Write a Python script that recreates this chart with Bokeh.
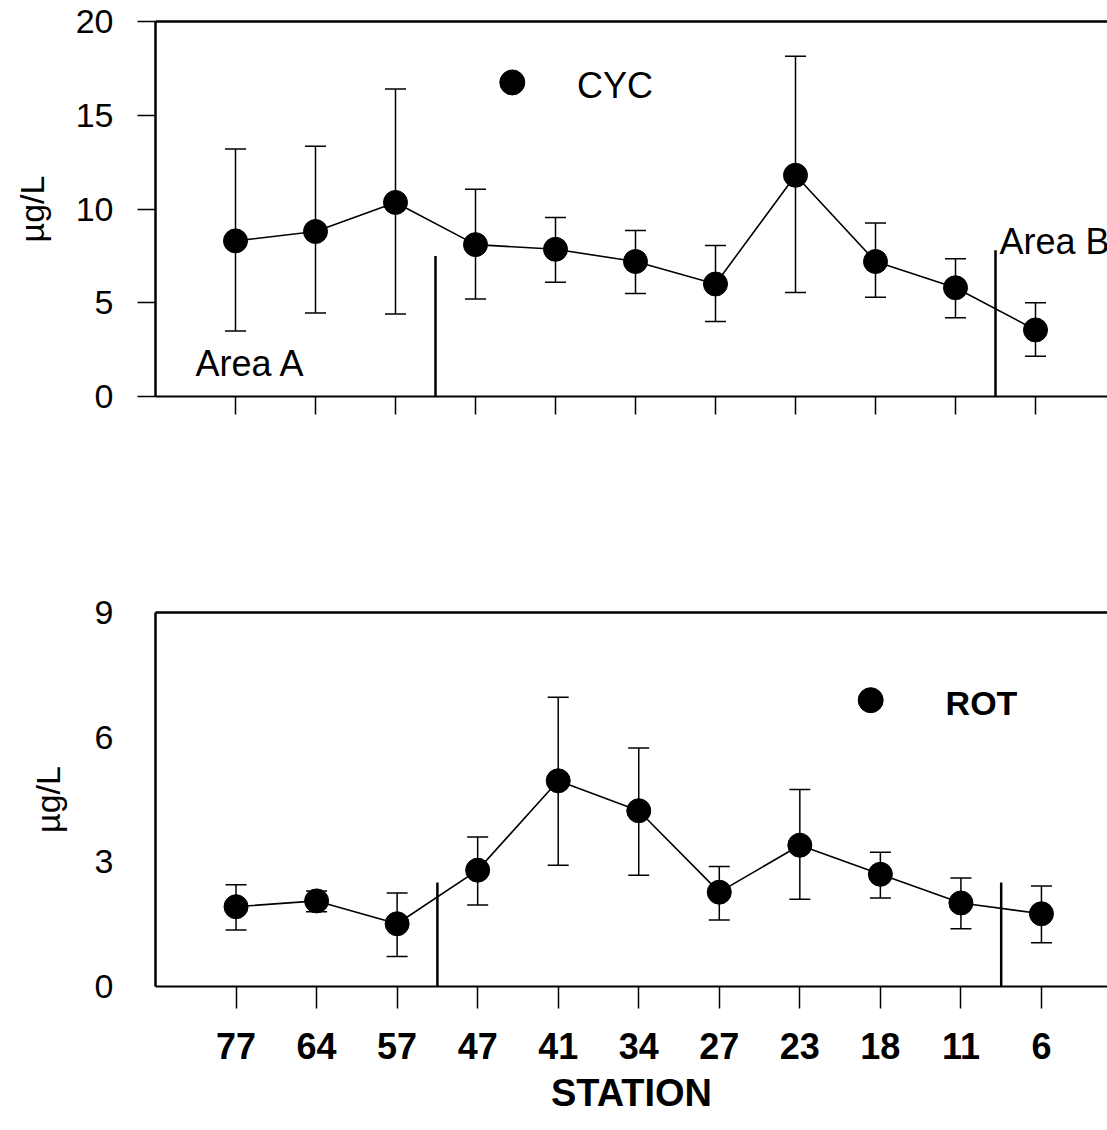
from bokeh.plotting import figure
from bokeh.models import Range1d, FixedTicker, LinearAxis, Whisker, TeeHead, ColumnDataSource
from bokeh.layouts import column
from bokeh.core.properties import value
from bokeh.embed import file_html
from bokeh.resources import INLINE

# ---- data ----
stations = ["77", "64", "57", "47", "41", "34", "27", "23", "18", "11", "6"]
cyc_mean = [8.3, 8.8, 10.35, 8.1, 7.85, 7.2, 6.0, 11.8, 7.2, 5.8, 3.55]
cyc_upper = [13.2, 13.35, 16.4, 11.05, 9.55, 8.85, 8.05, 18.15, 9.25, 7.35, 5.0]
cyc_lower = [3.5, 4.45, 4.4, 5.2, 6.1, 5.5, 4.0, 5.55, 5.3, 4.2, 2.15]
rot_mean = [1.92, 2.06, 1.51, 2.8, 4.95, 4.23, 2.27, 3.4, 2.7, 2.01, 1.75]
rot_upper = [2.45, 2.3, 2.25, 3.6, 6.96, 5.74, 2.89, 4.74, 3.23, 2.61, 2.42]
rot_lower = [1.36, 1.8, 0.72, 1.96, 2.92, 2.68, 1.6, 2.1, 2.13, 1.39, 1.05]
cyc_ticks = [0, 5, 10, 15, 20]
rot_ticks = [0, 3, 6, 9]
area_bounds = [2.5, 9.5]          # station-index positions of the area dividers
cyc_divider_top = [7.5, 7.8]
rot_divider_top = [2.5, 2.5]

FONT = "Liberation Sans"
x = list(range(len(stations)))


def style_common(p, yticks, tick_out, label_standoff, axis_label_standoff):
    p.grid.visible = False
    p.outline_line_color = None
    p.background_fill_color = "white"
    p.border_fill_color = "white"
    xa = p.below[0]
    xa.ticker = FixedTicker(ticks=x)
    xa.major_tick_in = 0
    xa.minor_tick_line_color = None
    xa.axis_line_width = 2
    xa.major_tick_line_width = 1.5
    ya = p.left[0]
    ya.ticker = FixedTicker(ticks=yticks)
    ya.major_tick_in = 0
    ya.major_tick_out = tick_out
    ya.major_tick_line_width = 1.5
    ya.minor_tick_line_color = None
    ya.axis_line_width = 2.5
    ya.major_label_standoff = label_standoff
    ya.major_label_text_font = FONT
    ya.major_label_text_font_size = "34px"
    ya.major_label_text_color = "black"
    ya.axis_label = "µg/L"
    ya.axis_label_text_font = FONT
    ya.axis_label_text_font_size = "34px"
    ya.axis_label_text_font_style = "normal"
    ya.axis_label_text_color = "black"
    ya.axis_label_standoff = axis_label_standoff
    top = LinearAxis(ticker=FixedTicker(ticks=[]), major_tick_out=0, major_tick_in=0,
                     minor_tick_line_color=None, major_label_text_color=None,
                     major_label_standoff=0, axis_line_width=2.5)
    p.add_layout(top, "above")
    return xa


def draw_series(p, mean, upper, lower, divider_top):
    src = ColumnDataSource(dict(x=x, mean=mean, upper=upper, lower=lower))
    w = Whisker(base="x", upper="upper", lower="lower", source=src, line_width=1.5,
                line_color="black",
                upper_head=TeeHead(size=21, line_width=1.5, line_color="black"),
                lower_head=TeeHead(size=21, line_width=1.5, line_color="black"))
    p.add_layout(w)
    p.line("x", "mean", source=src, line_color="black", line_width=1.6)
    p.scatter("x", "mean", source=src, size=24, marker="circle", fill_color="black", line_color="black")
    p.segment(x0=area_bounds, y0=[0, 0], x1=area_bounds, y1=divider_top, line_color="black", line_width=2.5)


# ---- top panel (CYC) ----
p1 = figure(width=1107, height=496, x_range=Range1d(-1.0, 10.9), y_range=Range1d(0, 20),
            output_backend="svg", toolbar_location=None,
            min_border_left=150, min_border_right=0, min_border_top=21, min_border_bottom=100)
xa1 = style_common(p1, cyc_ticks, 18, 24, 22)
xa1.major_tick_out = 18
xa1.major_label_text_color = None
xa1.major_label_standoff = 0
draw_series(p1, cyc_mean, cyc_upper, cyc_lower, cyc_divider_top)
p1.scatter(x=[3.46], y=[16.75], size=25, marker="circle", fill_color="black", line_color="black")
p1.text(x=[4.27], y=[16.6], text=["CYC"], text_font=value(FONT), text_font_size="36px",
        text_baseline="middle", text_align="left", text_color="black")
p1.text(x=[-0.5, 9.55], y=[1.76, 8.27], text=["Area A", "Area B"], text_font=value(FONT),
        text_font_size="36px", text_baseline="middle", text_align="left", text_color="black")

# ---- bottom panel (ROT) ----
p2 = figure(width=1107, height=620, x_range=Range1d(-1.0, 10.82), y_range=Range1d(0, 9),
            output_backend="svg", toolbar_location=None,
            min_border_left=155, min_border_right=0, min_border_top=116, min_border_bottom=128)
xa2 = style_common(p2, rot_ticks, 0, 42, 25)
xa2.major_tick_out = 22
xa2.major_label_overrides = {i: s for i, s in enumerate(stations)}
xa2.major_label_text_font = FONT
xa2.major_label_text_font_size = "36px"
xa2.major_label_text_font_style = "bold"
xa2.major_label_text_color = "black"
xa2.major_label_standoff = 24
xa2.axis_label = "STATION"
xa2.axis_label_text_font = FONT
xa2.axis_label_text_font_size = "38px"
xa2.axis_label_text_font_style = "bold"
xa2.axis_label_text_color = "black"
xa2.axis_label_standoff = 10
draw_series(p2, rot_mean, rot_upper, rot_lower, rot_divider_top)
p2.scatter(x=[7.88], y=[6.89], size=25, marker="circle", fill_color="black", line_color="black")
p2.text(x=[8.81], y=[6.82], text=["ROT"], text_font=value(FONT), text_font_size="34px",
        text_font_style="bold", text_baseline="middle", text_align="left", text_color="black")

layout = column(p1, p2, spacing=0)
open("out.html", "w").write(file_html(layout, INLINE))
